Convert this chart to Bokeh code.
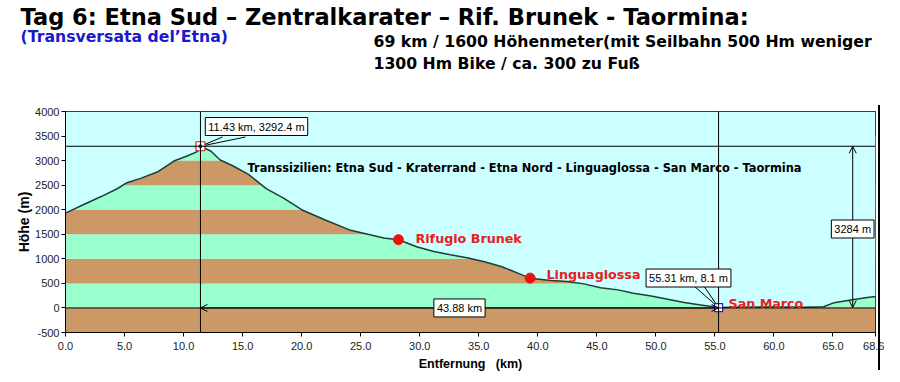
from bokeh.plotting import figure
from bokeh.layouts import column
from bokeh.models import (Range1d, Label, Span, Arrow, OpenHead, FixedTicker,
                          PrintfTickFormatter)
from bokeh.core.properties import value
from bokeh.embed import file_html
from bokeh.resources import INLINE

# ---------------- data ----------------
dist_km = [0.0, 1.55, 2.97, 4.38, 5.2, 6.36, 7.77, 9.18, 10.3, 11.16, 11.43,
           12.3, 13.1, 14.2, 15.5, 17.0, 18.5, 20.0, 22.0, 24.15, 26.96, 28.2,
           29.8, 31.2, 32.6, 34.1, 35.4, 36.9, 38.3, 39.35, 41.1, 42.5, 43.9,
           45.3, 46.8, 48.1, 49.6, 51.0, 52.4, 53.8, 55.31, 57.0, 60.0, 62.5,
           64.2, 65.1, 66.5, 67.9, 68.6]
elev_m = [1930, 2106, 2263, 2427, 2550, 2638, 2767, 2992, 3094, 3184, 3292.4,
          3196, 3012, 2890, 2720, 2430, 2230, 2000, 1790, 1580, 1425, 1390,
          1241, 1151, 1084, 1016, 947, 845, 710, 607, 558, 538, 490,
          410, 368, 300, 245, 178, 109, 61, 8.1, 15, 20, 15,
          25, 108, 163, 211, 231]

band_bottom = [-500, 0, 500, 1000, 1500, 2000, 2500, 3000]
band_top = [0, 500, 1000, 1500, 2000, 2500, 3000, 3500]
band_color = ["#cc9966", "#99ffcc", "#cc9966", "#99ffcc",
              "#cc9966", "#99ffcc", "#cc9966", "#99ffcc"]

poi_names = ["Rifugio Brunek", "Linguaglossa", "San Marco"]
poi_km = [28.2, 39.35, 55.31]
poi_m = [1390, 607, 8.1]

peak_km, peak_m = 11.43, 3292.4
end_km, end_m = 55.31, 8.1
span_label = "43.88 km"
height_label = "3284 m"
measure_km = 66.67
route_text = "Transsizilien: Etna Sud - Kraterrand - Etna Nord - Linguaglossa - San Marco - Taormina"

x_ticks = [0, 5, 10, 15, 20, 25, 30, 35, 40, 45, 50, 55, 60, 65, 68.6]
y_ticks = [-500, 0, 500, 1000, 1500, 2000, 2500, 3000, 3500, 4000]

header_lines = ["Tag 6: Etna Sud – Zentralkarater – Rif. Brunek - Taormina:",
                "(Transversata del’Etna)",
                "69 km / 1600 Höhenmeter(mit Seilbahn 500 Hm weniger",
                "1300 Hm Bike / ca. 300 zu Fuß"]

X0, X1 = 0.0, 68.6
Y0, Y1 = -500, 4000

# ---------------- header (page pixel coordinates) ----------------
W = 884
HH = 80
DY = -6   # empirical baseline correction
head = figure(width=W, height=HH, x_range=Range1d(0, W), y_range=Range1d(HH, 0),
              output_backend="svg", toolbar_location=None, title=None,
              min_border=0, min_border_left=0, min_border_right=0,
              min_border_top=0, min_border_bottom=0, frame_align=False)
head.axis.visible = False
head.grid.visible = False
head.outline_line_color = None
head.background_fill_color = "white"
head.border_fill_color = "white"
head.text(x=[20], y=[22 + DY], text=header_lines[:1], text_font=value("DejaVu Sans"),
          text_font_style="bold", text_font_size="22.5px", text_color="black",
          text_baseline="alphabetic")
head.text(x=[20], y=[42 + DY], text=header_lines[1:2], text_font=value("DejaVu Sans"),
          text_font_style="bold", text_font_size="15.7px", text_color="#1a1acc",
          text_baseline="alphabetic")
head.text(x=[373, 373], y=[47 + DY, 69 + DY], text=header_lines[2:],
          text_font=value("DejaVu Sans"), text_font_style="bold",
          text_font_size="15.7px", text_color="black", text_baseline="alphabetic")

# ---------------- main chart ----------------
FL, FR, FT, FB = 65, 875, 111, 332   # page pixels of the frame
H = 374 - HH


def px(xp):
    return X0 + (xp - FL) * (X1 - X0) / (FR - FL)


def py(yp):
    return Y0 + (FB - yp) * (Y1 - Y0) / (FB - FT)


page_line_css = (":host { position: relative; }"
                 ":host::after { content: ''; position: absolute; left: 878px; top: %dpx;"
                 " width: 2px; height: 265px; background: black; pointer-events: none; }"
                 % (105 - HH))

p = figure(width=W, height=H, title=None,
           x_range=Range1d(X0, X1), y_range=Range1d(Y0, Y1),
           output_backend="svg", toolbar_location=None, frame_align=False,
           min_border_left=FL, min_border_right=W - FR,
           min_border_top=FT - HH, min_border_bottom=374 - FB,
           stylesheets=[page_line_css])
p.background_fill_color = "#ccffff"
p.border_fill_color = "white"
p.outline_line_color = "black"
p.xgrid.visible = False
p.ygrid.visible = False

p.quad(left=X0, right=X1, bottom=band_bottom, top=band_top,
       fill_color=band_color, line_color=None)
p.varea(x=dist_km, y1=elev_m, y2=Y1, fill_color="#ccffff")
p.line(dist_km, elev_m, line_color="#1e3c3c", line_width=1.5)

p.add_layout(Span(location=0, dimension="width", line_color="black", line_width=1))
p.add_layout(Span(location=peak_m, dimension="width", line_color="black", line_width=1))
p.add_layout(Span(location=peak_km, dimension="height", line_color="black", line_width=1))
p.add_layout(Span(location=end_km, dimension="height", line_color="black", line_width=1))

p.add_layout(Arrow(start=OpenHead(size=7, line_width=1), end=OpenHead(size=7, line_width=1),
                   x_start=peak_km, y_start=0, x_end=end_km, y_end=0,
                   line_color="black", line_width=1))
p.add_layout(Arrow(start=OpenHead(size=7, line_width=1), end=OpenHead(size=7, line_width=1),
                   x_start=measure_km, y_start=end_m, x_end=measure_km, y_end=peak_m,
                   line_color="black", line_width=1))

p.segment(x0=[peak_km, peak_km], y0=[peak_m, peak_m],
          x1=[px(222), px(245)], y1=[py(136.5), py(136.5)], line_color="black", line_width=1)
p.segment(x0=[end_km, end_km], y0=[end_m, end_m],
          x1=[px(693), px(703)], y1=[py(285), py(285)], line_color="black", line_width=1)

p.scatter([peak_km], [peak_m], marker="square", size=9, fill_color="white",
          line_color="#e02020", line_width=1.2)
p.scatter([peak_km], [peak_m], marker="circle", size=3, fill_color="black", line_color="black")
p.scatter([end_km], [end_m], marker="square", size=8, fill_color="white",
          line_color="#2020c0", line_width=1.2)
p.scatter(poi_km[:2], poi_m[:2], marker="circle", size=10, fill_color="#ee1111",
          line_color="#ee1111")

p.xaxis.ticker = FixedTicker(ticks=x_ticks)
p.xaxis.formatter = PrintfTickFormatter(format="%.1f")
p.yaxis.ticker = FixedTicker(ticks=y_ticks)
p.yaxis.formatter = PrintfTickFormatter(format="%d")
for ax in (p.xaxis, p.yaxis):
    ax.axis_line_color = "black"
    ax.major_tick_line_color = "black"
    ax.major_tick_in = 0
    ax.major_tick_out = 4
    ax.minor_tick_line_color = None
    ax.major_label_text_font = "Liberation Sans"
    ax.major_label_text_font_size = "11px"
    ax.major_label_text_color = "#222222"
    ax.axis_label_text_font = "Liberation Sans"
    ax.axis_label_text_font_style = "bold"
    ax.axis_label_text_color = "black"
p.xaxis.major_label_standoff = 5
p.yaxis.major_label_standoff = 2
p.xaxis.axis_label = "Entfernung \u00a0 (km)"
p.xaxis.axis_label_text_font_size = "12.5px"
p.xaxis.axis_label_standoff = 4
p.yaxis.axis_label = "Höhe (m)"
p.yaxis.axis_label_text_font_size = "14px"
p.yaxis.axis_label_standoff = 0

BOX = dict(text_font="Liberation Sans", text_font_size="11px", text_color="black",
           background_fill_color="white", border_line_color="black",
           text_align="center", text_baseline="middle", padding=3)

p.add_layout(Label(x=px(256), y=py(126), text=f"{peak_km:.2f} km, {peak_m:.1f} m", **BOX))
p.add_layout(Label(x=px(688), y=py(277.5), text=f"{end_km:.2f} km, {end_m:.1f} m", **BOX))
p.add_layout(Label(x=px(459), y=0, text=span_label, **BOX))
p.add_layout(Label(x=measure_km, y=py(228.5), text=height_label, **BOX))

p.add_layout(Label(x=px(247), y=py(167), text=route_text,
                   text_font="DejaVu Sans", text_font_style="bold", text_font_size="11.4px",
                   text_color="black", text_baseline="alphabetic"))
red_pos = [(415, 237.5), (546, 274), (728, 303)]
for name, (xp_, yp_) in zip(poi_names, red_pos):
    p.add_layout(Label(x=px(xp_), y=py(yp_), text=name, text_font="DejaVu Sans",
                       text_font_style="bold", text_font_size="12.7px", text_color="#e82020",
                       text_baseline="alphabetic"))

open("out.html", "w").write(file_html(column(head, p, spacing=0), INLINE))
